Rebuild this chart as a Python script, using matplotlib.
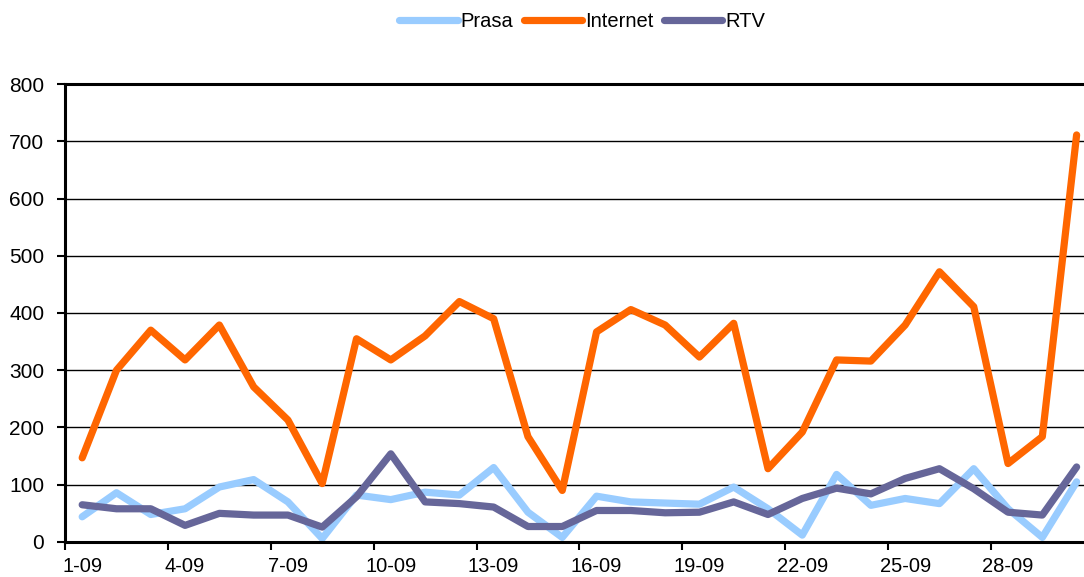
import matplotlib.pyplot as plt

# daily counts, September
days = [f'{d}-09' for d in range(1, 31)]
prasa = [44, 86, 48, 58, 96, 109, 70, 6, 82, 74,
         87, 82, 130, 52, 8, 80, 70, 68, 66, 96,
         58, 12, 118, 64, 76, 67, 128, 58, 8, 105]
internet = [147, 300, 370, 318, 379, 271, 213, 102, 355, 318,
            360, 420, 390, 184, 90, 367, 406, 379, 323, 382,
            128, 192, 318, 316, 379, 472, 411, 137, 184, 711]
rtv = [65, 58, 58, 29, 50, 47, 47, 26, 79, 154,
       70, 67, 61, 27, 27, 55, 55, 51, 52, 70,
       48, 76, 94, 84, 111, 128, 93, 52, 47, 131]

plt.rcParams['font.family'] = ['Liberation Sans', 'DejaVu Sans']

fig = plt.figure(figsize=(10.84, 5.77), dpi=100)
# right edge of the plot area runs past the picture, as in the original
ax = fig.add_axes([0.060, 0.0607, 0.949, 0.7937])

x = list(range(len(days)))
kw = dict(lw=5.2, solid_capstyle='round', solid_joinstyle='round')
ax.plot(x, prasa, color='#99CCFF', label='Prasa', **kw)
ax.plot(x, internet, color='#FF6600', label='Internet', **kw)
ax.plot(x, rtv, color='#666699', label='RTV', **kw)

ax.set_xlim(-0.5, len(days) - 0.5)
ax.set_ylim(0, 800)
ax.set_yticks(range(0, 801, 100))
ax.yaxis.grid(True, color='black', lw=1.0)
ax.set_axisbelow(True)

ax.set_xticks(x[::3])
ax.set_xticklabels(days[::3])
ax.set_xticks([i - 0.5 for i in x[::3]], minor=True)
ax.tick_params(axis='x', which='major', length=0, pad=10.5, labelsize=14.5)
ax.tick_params(axis='x', which='minor', length=6, width=1.5, direction='out')
ax.tick_params(axis='y', length=6, width=1.5, direction='out', pad=9, labelsize=15)

for s in ['left', 'bottom', 'top']:
    ax.spines[s].set_linewidth(2.2)
ax.spines['right'].set_visible(False)

fig.legend(loc='center', bbox_to_anchor=(0.537, 0.963), ncol=3, frameon=False,
           fontsize=14.5, handlelength=2.9, handletextpad=0.15, columnspacing=0.5)

fig.savefig('out.png', dpi=100)
